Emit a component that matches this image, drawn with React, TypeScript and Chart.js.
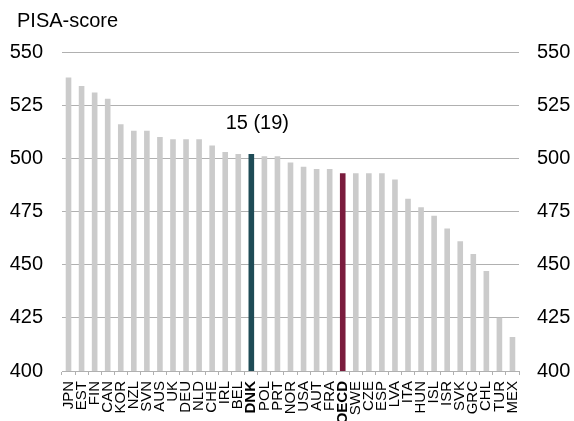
import React, { useEffect, useRef } from "react";
import { Chart, registerables } from "chart.js";

Chart.register(...registerables);

const categories = ["JPN","EST","FIN","CAN","KOR","NZL","SVN","AUS","UK","DEU","NLD","CHE","IRL","BEL","DNK","POL","PRT","NOR","USA","AUT","FRA","OECD","SWE","CZE","ESP","LVA","ITA","HUN","ISL","ISR","SVK","GRC","CHL","TUR","MEX"];
const scores = [538,534,531,528,516,513,513,510,509,509,509,506,503,502,502,501,501,498,496,495,495,493,493,493,493,490,481,477,473,467,461,455,447,425,416];
const yTicks = [400,425,450,475,500,525,550];
const highlight = { DNK: "#1e4b56", OECD: "#7a1c3d" } as Record<string, string>;
const boldLabels = ["DNK", "OECD"];
const axisTitle = "PISA-score";
const annotationLabel = "15 (19)";
const annotationCategory = "DNK";

const FONT = "'Liberation Sans', Arial, sans-serif";

export default function App() {
  const ref = useRef<HTMLCanvasElement | null>(null);
  useEffect(() => {
    const canvas = ref.current!;
    const textPlugin = {
      id: "texts",
      afterDraw(chart: any) {
        const ctx = chart.ctx;
        ctx.save();
        ctx.fillStyle = "#000";
        ctx.font = `20px ${FONT}`;
        ctx.textAlign = "left";
        ctx.textBaseline = "alphabetic";
        ctx.fillText(axisTitle, 17, 27);
        const idx = categories.indexOf(annotationCategory);
        const bar = chart.getDatasetMeta(0).data[idx];
        const w = ctx.measureText(annotationLabel).width;
        ctx.fillText(annotationLabel, bar.x + 6 - w / 2, bar.y - 25);
        ctx.restore();
      },
    };
    const chart = new Chart(canvas, {
      type: "bar",
      data: {
        labels: categories,
        datasets: [
          {
            data: scores,
            backgroundColor: categories.map((c) => highlight[c] || "#cbcbcb"),
            categoryPercentage: 1,
            barPercentage: 0.43,
            yAxisID: "y",
          },
        ],
      },
      options: {
        animation: false,
        responsive: false,
        devicePixelRatio: 1,
        layout: { padding: { top: 52, left: 0, right: 0, bottom: 0 } },
        plugins: { legend: { display: false }, tooltip: { enabled: false }, title: { display: false } },
        scales: {
          x: {
            grid: { display: true, drawOnChartArea: false, drawTicks: true, tickLength: 4, color: "#b0b0b0" },
            border: { display: true, color: "#b0b0b0" },
            ticks: {
              autoSkip: false,
              minRotation: 90,
              maxRotation: 90,
              padding: 6,
              color: "#000",
              font: (ctx: any) => ({
                family: FONT,
                size: 15,
                weight: boldLabels.includes(categories[ctx.index]) ? "bold" : "normal",
              }),
            },
            afterFit: (s: any) => { s.height = 50; },
          },
          y: {
            position: "left",
            min: 400,
            max: 550,
            afterBuildTicks: (s: any) => { s.ticks = yTicks.map((v) => ({ value: v })); },
            grid: { color: "#b0b0b0", drawTicks: false },
            border: { display: false },
            ticks: { padding: 19, color: "#000", font: { family: FONT, size: 20 } },
            afterFit: (s: any) => { s.width = 62; },
          },
          y2: {
            position: "right",
            min: 400,
            max: 550,
            afterBuildTicks: (s: any) => { s.ticks = yTicks.map((v) => ({ value: v })); },
            grid: { display: false, drawTicks: false },
            border: { display: false },
            ticks: { padding: 18, color: "#000", font: { family: FONT, size: 20 } },
            afterFit: (s: any) => { s.width = 55; },
          },
        },
      },
      plugins: [textPlugin],
    } as any);
    return () => chart.destroy();
  }, []);
  return (
    <div style={{ position: "absolute", left: 0, top: 0, width: 574, height: 421, background: "#fff" }}>
      <canvas ref={ref} width={574} height={421} />
    </div>
  );
}
